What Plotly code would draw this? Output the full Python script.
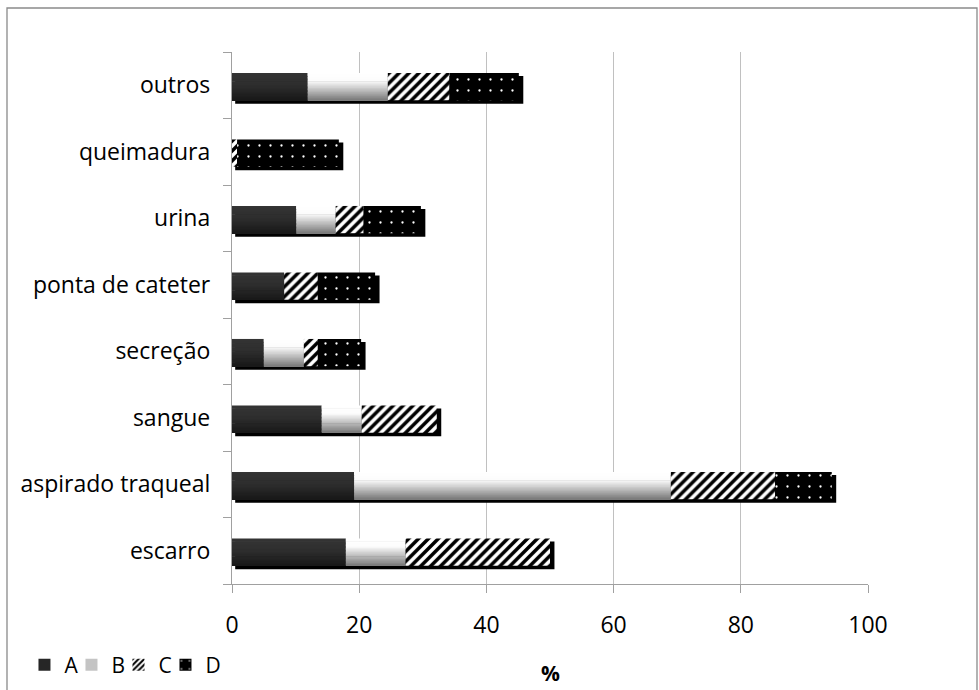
import plotly.graph_objects as go

# Specimen types (bottom to top on the category axis)
categories = ["escarro", "aspirado traqueal", "sangue", "secreção",
              "ponta de cateter", "urina", "queimadura", "outros"]

# Percentage of isolates per group, stacked left to right
series_names = ["A", "B", "C", "D"]
A = [17.9, 19.2, 14.1, 5.0, 8.2, 10.1, 0.0, 11.9]
B = [9.4, 49.8, 6.3, 6.3, 0.0, 6.2, 0.0, 12.6]
C = [22.7, 16.4, 11.8, 2.2, 5.3, 4.4, 0.8, 9.7]
D = [0.0, 8.9, 0.0, 6.8, 9.0, 9.0, 16.0, 10.9]

x_ticks = [0, 20, 40, 60, 80, 100]

FONT = "Open Sans"
BAR_W = 0.41        # bar thickness in category units
BAR_C = -0.02       # small downward shift of each bar
N_STRIPS = 20       # horizontal strips used to fake a vertical gradient


def lerp(c0, c1, t):
    return tuple(round(a + (b - a) * t) for a, b in zip(c0, c1))


def grad_color(stops, t):
    # stops: list of (pos, rgb) with pos from 0 (top) to 1 (bottom)
    for (p0, c0), (p1, c1) in zip(stops, stops[1:]):
        if p0 <= t <= p1:
            return "rgb(%d,%d,%d)" % lerp(c0, c1, (t - p0) / (p1 - p0) if p1 > p0 else 0)
    return "rgb(%d,%d,%d)" % stops[-1][1]


grad_A = [(0.0, (52, 52, 52)), (0.45, (46, 46, 46)), (1.0, (24, 24, 24))]
grad_B = [(0.0, (255, 255, 255)), (0.3, (252, 252, 252)), (1.0, (120, 120, 120))]

totals = [a + b + c + d for a, b, c, d in zip(A, B, C, D)]
base_B = A
base_C = [a + b for a, b in zip(A, B)]
base_D = [a + b + c for a, b, c in zip(A, B, C)]

fig = go.Figure()

# Drop shadow behind every stacked bar
fig.add_trace(go.Bar(
    y=categories, x=[t + 0.2 for t in totals], base=[0.5] * len(totals),
    orientation="h", width=BAR_W + 0.01, offset=BAR_C - BAR_W / 2 - 0.055,
    marker=dict(color="black", line=dict(width=0)),
    showlegend=False, hoverinfo="skip"))


def gradient_segment(values, base, stops):
    strip = BAR_W / N_STRIPS
    for i in range(N_STRIPS):
        t = (i + 0.5) / N_STRIPS
        top = BAR_C + BAR_W / 2 - i * strip
        last = i == N_STRIPS - 1
        h = strip if last else strip * 1.5
        fig.add_trace(go.Bar(
            y=categories, x=values, base=base, orientation="h",
            width=h, offset=top - h,
            marker=dict(color=grad_color(stops, t), line=dict(width=0)),
            showlegend=False, hoverinfo="skip"))


gradient_segment(A, [0] * len(A), grad_A)
gradient_segment(B, base_B, grad_B)

# Diagonal hatching
fig.add_trace(go.Bar(
    y=categories, x=C, base=base_C, orientation="h",
    width=BAR_W, offset=BAR_C - BAR_W / 2,
    marker=dict(color="white", line=dict(width=0),
                pattern=dict(shape="/", fgcolor="black", bgcolor="white",
                             size=7, solidity=0.5, fillmode="replace")),
    showlegend=False, hoverinfo="skip"))

# Black with white dots
fig.add_trace(go.Bar(
    y=categories, x=D, base=base_D, orientation="h",
    width=BAR_W, offset=BAR_C - BAR_W / 2,
    marker=dict(color="black", line=dict(width=0),
                pattern=dict(shape=".", fgcolor="white", bgcolor="black",
                             size=11, solidity=0.035, fillmode="replace")),
    showlegend=False, hoverinfo="skip"))

# Legend entries (plus a blank trailing slot so the last label is not clipped)
legend_markers = [
    dict(color="#262626"),
    dict(color="#c4c4c4"),
    dict(color="white", pattern=dict(shape="/", fgcolor="black", bgcolor="white",
                                     size=5, solidity=0.5, fillmode="replace")),
    dict(color="black", pattern=dict(shape=".", fgcolor="white", bgcolor="black",
                                     size=12, solidity=0.03, fillmode="replace")),
    dict(color="rgba(0,0,0,0)"),
]
for name, mk in zip(series_names + [" "], legend_markers):
    fig.add_trace(go.Bar(
        y=[categories[0]], x=[0], orientation="h", name=name,
        marker=dict(line=dict(width=0), **mk), hoverinfo="skip"))

fig.update_layout(
    template="none",
    width=979, height=690,
    margin=dict(l=232, r=111, t=52, b=106, autoexpand=False),
    paper_bgcolor="white", plot_bgcolor="white",
    barmode="overlay",
    font=dict(family=FONT, size=23, color="black"),
    showlegend=True,
    legend=dict(orientation="h", xref="container", yref="container",
                x=0.025, y=0.036, xanchor="left", yanchor="middle",
                itemwidth=30, entrywidth=2, tracegroupgap=0, itemclick=False,
                font=dict(family=FONT, size=21, color="black"),
                bgcolor="rgba(0,0,0,0)"),
    xaxis=dict(
        automargin=False,
        range=[0, 100], tickvals=x_ticks, ticktext=[str(v) for v in x_ticks],
        showgrid=True, gridcolor="#c0c0c0", gridwidth=1.3,
        showline=True, linecolor="#a0a0a0", linewidth=1.3,
        ticks="outside", ticklen=8, tickcolor="#a0a0a0", tickwidth=1.3,
        ticklabelstandoff=12, zeroline=False,
    ),
    yaxis=dict(
        automargin=False,
        categoryorder="array", categoryarray=categories,
        range=[-0.5, len(categories) - 0.5],
        showgrid=False, zeroline=False,
        showline=True, linecolor="#a0a0a0", linewidth=1.3,
        ticks="outside", tickson="boundaries", ticklen=8,
        tickcolor="#a0a0a0", tickwidth=1.3, ticklabelstandoff=16,
    ),
    annotations=[dict(text="<b>%</b>", xref="paper", yref="paper",
                      x=0.5, y=(584 - 673) / 532, xanchor="center", yanchor="middle",
                      showarrow=False, font=dict(family=FONT, size=21, color="black"))],
    shapes=[dict(type="rect", xref="paper", yref="paper",
                 x0=-225 / 636, x1=(977 - 232) / 636,
                 y0=-(695 - 584) / 532, y1=(584 - 8) / 532,
                 line=dict(color="#8a8a8a", width=1.3), fillcolor="rgba(0,0,0,0)",
                 layer="below")],
)

fig.write_html("out.html")
